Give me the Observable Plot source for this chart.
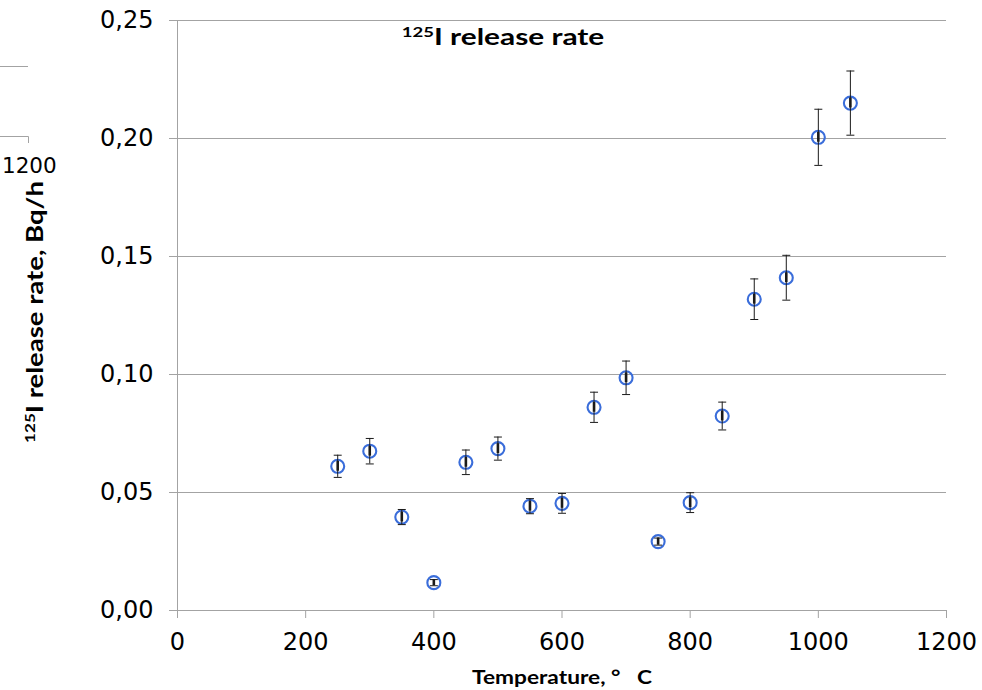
<!DOCTYPE html>
<html>
<head>
<meta charset="utf-8">
<script src="https://cdn.jsdelivr.net/npm/d3@7"></script>
<script src="https://cdn.jsdelivr.net/npm/@observablehq/plot@0.6"></script>
<style>
  html, body { margin: 0; padding: 0; background: white; }
  svg { display: block; }
</style>
</head>
<body>
<div id="chart"></div>
<script>
// ---- data ----
const temperature = [250, 300, 350, 400, 450, 500, 550, 600, 650, 700, 750, 800, 850, 900, 950, 1000, 1050];
const releaseRate = [0.0611, 0.0675, 0.0396, 0.0118, 0.0628, 0.0686, 0.0442, 0.0454, 0.0861, 0.0986, 0.0292, 0.0457, 0.0824, 0.1319, 0.1410, 0.2005, 0.2150];
const rateError   = [0.0047, 0.0054, 0.0032, 0.0013, 0.0052, 0.0049, 0.0032, 0.0042, 0.0064, 0.0071, 0.0015, 0.0042, 0.0059, 0.0086, 0.0095, 0.0119, 0.0136];
const xTicks = [0, 200, 400, 600, 800, 1000, 1200];
const yTicks = [0, 0.05, 0.10, 0.15, 0.20, 0.25];
const titleSup = "125", titleMain = "I release rate";
const yLabelSup = "125", yLabelMain = "I release rate, Bq/h";
const xLabel = "Temperature, \u00B0   C";
const strayTick = "1200";

const data = temperature.map((t, i) => ({t, r: releaseRate[i], e: rateError[i]}));

const gridColor = "#a3a3a3";
const dotColor = "#3a6dda";
const barColor = "#1a1a1a";
const capSymbol = {draw(ctx) { ctx.moveTo(-4, 0); ctx.lineTo(4, 0); }};
const fmt = d => d.toFixed(2).replace(".", ",");

const chart = Plot.plot({
  width: 982,
  height: 690,
  marginLeft: 177,
  marginRight: 36,
  marginTop: 20,
  marginBottom: 80,
  style: {background: "white", fontFamily: "DejaVu Sans, Verdana, sans-serif"},
  x: {domain: [0, 1200]},
  y: {domain: [0, 0.25]},
  marks: [
    Plot.ruleY(yTicks, {stroke: gridColor, strokeWidth: 1}),
    Plot.ruleX([0], {stroke: gridColor, strokeWidth: 1}),
    Plot.axisY({ticks: yTicks, tickSize: 8, tickPadding: 16, stroke: gridColor, fill: "black", fontSize: 24, tickFormat: fmt, label: null}),
    Plot.axisX({ticks: xTicks, tickSize: 8, tickPadding: 14, stroke: gridColor, fill: "black", fontSize: 24, tickFormat: d => String(d), label: null}),
    Plot.dot(data, {x: "t", y: "r", r: 6.5, stroke: dotColor, strokeWidth: 2.1, fill: "none"}),
    Plot.ruleX(data, {x: "t", y1: d => d.r - d.e, y2: d => d.r + d.e, stroke: barColor, strokeWidth: 1}),
    Plot.ruleX(data, {x: "t", y1: d => d.r - Math.min(d.e, 0.0021), y2: d => d.r + Math.min(d.e, 0.0021), stroke: barColor, strokeWidth: 2.6}),
    Plot.dot(data, {x: "t", y: d => d.r + d.e, symbol: capSymbol, r: 4, fill: "none", stroke: barColor, strokeWidth: 1}),
    Plot.dot(data, {x: "t", y: d => d.r - d.e, symbol: capSymbol, r: 4, fill: "none", stroke: barColor, strokeWidth: 1})
  ]
});
document.getElementById("chart").appendChild(chart);

// ---- text labels with superscripts (stretched to reference width) ----
const svg = d3.select(chart);
function label(sup, main, size, transform, target) {
  const g = svg.append("g").attr("transform", transform);
  const t = g.append("text")
    .attr("text-anchor", "middle")
    .attr("font-family", "Lato, 'Open Sans', sans-serif")
    .attr("font-weight", 700)
    .attr("fill", "black")
    .attr("font-size", size)
    .attr("xml:space", "preserve")
    .style("white-space", "pre");
  if (sup) t.append("tspan").attr("font-size", size * 0.62).attr("dy", -size * 0.38).text(sup);
  t.append("tspan").attr("dy", sup ? size * 0.38 : 0).text(main);
  const w = t.node().getBBox().width;
  g.attr("transform", transform + ` scale(${target / w},1)`);
}
label(titleSup, titleMain, 22, "translate(503,45)", 203);
label(yLabelSup, yLabelMain, 22, "translate(43,312) rotate(-90)", 262);
label(null, xLabel, 18, "translate(562,684)", 180);

// stray fragment of a neighbouring chart at the left edge
const stray = svg.append("g").attr("stroke", gridColor).attr("fill", "none");
stray.append("path").attr("d", "M0,66.5H28");
stray.append("path").attr("d", "M0,136.5H28.5V143");
svg.append("text").attr("x", 2).attr("y", 173).attr("text-anchor", "start")
  .attr("font-family", "DejaVu Sans").attr("font-size", 21.5).attr("fill", "black").text(strayTick);
</script>
</body>
</html>
